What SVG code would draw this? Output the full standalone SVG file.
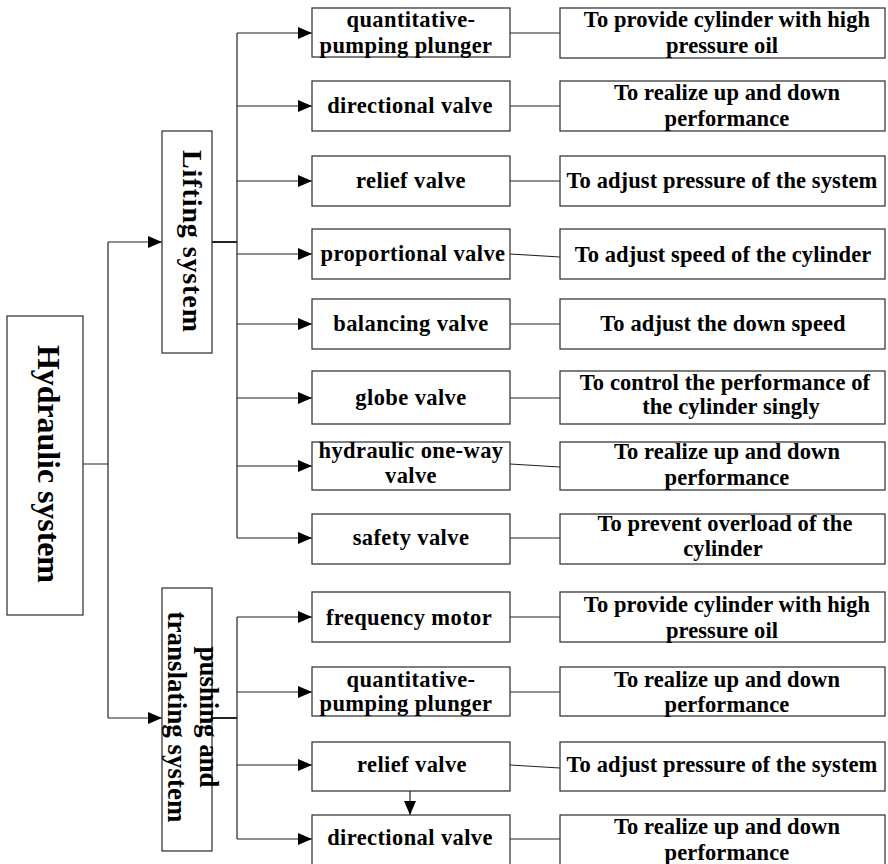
<svg xmlns="http://www.w3.org/2000/svg" width="888" height="864" viewBox="0 0 888 864">
<defs>
<style>
.box{fill:#fff;stroke:#3a3a3a;stroke-width:1.3}
.t{font-family:"Liberation Serif","Times New Roman",serif;font-weight:bold;font-size:22.5px;letter-spacing:0.4px;fill:#000;text-anchor:middle}
.r .t{letter-spacing:0.1px}
.big{font-size:32px;letter-spacing:0}
.mid{font-size:28px;letter-spacing:0}
.pt{font-size:27px;letter-spacing:0}
.ln{fill:none;stroke:#222;stroke-width:1.2}
.thick{stroke-width:2}
</style>
<marker id="ah" markerWidth="14" markerHeight="12" refX="14" refY="6" orient="auto" markerUnits="userSpaceOnUse">
<path d="M0,0 L14,6 L0,12 z" fill="#000"/>
</marker>
</defs>
<rect width="888" height="864" fill="#fff"/>

<g id="connectors">
<path class="ln" d="M83,464 H108 M108,242 V718"/>
<path class="ln" d="M108,242 H162" marker-end="url(#ah)"/>
<path class="ln" d="M108,718 H162" marker-end="url(#ah)"/>
<path class="ln thick" d="M212,242 H237"/>
<path class="ln" d="M237,33 V538"/>
<path class="ln" d="M237,33 H312" marker-end="url(#ah)"/>
<path class="ln" d="M237,106 H312" marker-end="url(#ah)"/>
<path class="ln" d="M237,181 H312" marker-end="url(#ah)"/>
<path class="ln" d="M237,254 H312" marker-end="url(#ah)"/>
<path class="ln" d="M237,324 H312" marker-end="url(#ah)"/>
<path class="ln" d="M237,398 H312" marker-end="url(#ah)"/>
<path class="ln" d="M237,466 H312" marker-end="url(#ah)"/>
<path class="ln" d="M237,538 H312" marker-end="url(#ah)"/>
<path class="ln thick" d="M212,718 H237"/>
<path class="ln" d="M237,617 V839"/>
<path class="ln" d="M237,617 H312" marker-end="url(#ah)"/>
<path class="ln" d="M237,692 H312" marker-end="url(#ah)"/>
<path class="ln" d="M237,765 H312" marker-end="url(#ah)"/>
<path class="ln" d="M237,839 H312" marker-end="url(#ah)"/>
<path class="ln" d="M410,791 V815" marker-end="url(#ah)"/>
<path class="ln" d="M510,33 H560 M510,106 H560 M510,181 H560 M510,254 L560,257 M510,324 H560 M510,398 H560 M510,464 L560,467 M510,538 H560 M510,617 H560 M510,692 H560 M510,765 L560,768 M510,839 H560"/>
</g>

<g id="hydraulic-system">
<rect class="box" x="7" y="316" width="76" height="299"/>
<text class="t big" transform="translate(38,464) rotate(90)" textLength="238" lengthAdjust="spacing">Hydraulic system</text>
</g>

<g id="lifting-system">
<rect class="box" x="162" y="131" width="50" height="222"/>
<text class="t mid" transform="translate(183,241) rotate(90)" textLength="182" lengthAdjust="spacing">Lifting system</text>
</g>

<g id="pushing-system">
<rect class="box" x="162" y="588" width="50" height="263"/>
<text class="t pt" transform="translate(200,717) rotate(90)" textLength="141" lengthAdjust="spacing">pushing and</text>
<text class="t pt" transform="translate(168,717) rotate(90)" textLength="211" lengthAdjust="spacing">translating system</text>
</g>

<g id="l1-plunger">
<rect class="box" x="312" y="8" width="198" height="49"/>
<text class="t" x="411" y="27">quantitative-</text>
<text class="t" x="406" y="53">pumping plunger</text>
</g>
<g id="l1-desc" class="r">
<rect class="box" x="560" y="8" width="325" height="50"/>
<text class="t" x="727" y="27">To provide cylinder with high</text>
<text class="t" x="722" y="53">pressure oil</text>
</g>

<g id="l2-directional">
<rect class="box" x="312" y="81" width="198" height="50"/>
<text class="t" x="410" y="113">directional valve</text>
</g>
<g id="l2-desc" class="r">
<rect class="box" x="560" y="81" width="325" height="50"/>
<text class="t" x="727" y="100">To realize up and down</text>
<text class="t" x="727" y="126">performance</text>
</g>

<g id="l3-relief">
<rect class="box" x="312" y="156" width="198" height="50"/>
<text class="t" x="411" y="188">relief valve</text>
</g>
<g id="l3-desc" class="r">
<rect class="box" x="560" y="156" width="325" height="50"/>
<text class="t" x="722" y="188">To adjust pressure of the system</text>
</g>

<g id="l4-proportional">
<rect class="box" x="312" y="229" width="198" height="50"/>
<text class="t" x="413" y="261">proportional valve</text>
</g>
<g id="l4-desc" class="r">
<rect class="box" x="560" y="229" width="325" height="50"/>
<text class="t" x="723" y="262">To adjust speed of the cylinder</text>
</g>

<g id="l5-balancing">
<rect class="box" x="312" y="299" width="198" height="50"/>
<text class="t" x="411" y="331">balancing valve</text>
</g>
<g id="l5-desc" class="r">
<rect class="box" x="560" y="299" width="325" height="50"/>
<text class="t" x="723" y="331">To adjust the down speed</text>
</g>

<g id="l6-globe">
<rect class="box" x="312" y="371" width="198" height="53"/>
<text class="t" x="411" y="405">globe valve</text>
</g>
<g id="l6-desc" class="r">
<rect class="box" x="560" y="371" width="325" height="53"/>
<text class="t" x="725" y="390">To control the performance of</text>
<text class="t" x="731" y="414">the cylinder singly</text>
</g>

<g id="l7-oneway">
<rect class="box" x="312" y="442" width="198" height="48"/>
<text class="t" x="411" y="458">hydraulic one-way</text>
<text class="t" x="411" y="483">valve</text>
</g>
<g id="l7-desc" class="r">
<rect class="box" x="560" y="442" width="325" height="48"/>
<text class="t" x="727" y="459">To realize up and down</text>
<text class="t" x="727" y="485">performance</text>
</g>

<g id="l8-safety">
<rect class="box" x="312" y="514" width="198" height="50"/>
<text class="t" x="411" y="545">safety valve</text>
</g>
<g id="l8-desc" class="r">
<rect class="box" x="560" y="514" width="325" height="50"/>
<text class="t" x="725" y="531">To prevent overload of the</text>
<text class="t" x="723" y="556">cylinder</text>
</g>

<g id="p1-motor">
<rect class="box" x="312" y="592" width="198" height="50"/>
<text class="t" x="409" y="625">frequency motor</text>
</g>
<g id="p1-desc" class="r">
<rect class="box" x="560" y="592" width="325" height="50"/>
<text class="t" x="727" y="612">To provide cylinder with high</text>
<text class="t" x="722" y="638">pressure oil</text>
</g>

<g id="p2-plunger">
<rect class="box" x="312" y="667" width="198" height="49"/>
<text class="t" x="411" y="687">quantitative-</text>
<text class="t" x="406" y="711">pumping plunger</text>
</g>
<g id="p2-desc" class="r">
<rect class="box" x="560" y="667" width="325" height="49"/>
<text class="t" x="727" y="687">To realize up and down</text>
<text class="t" x="727" y="712">performance</text>
</g>

<g id="p3-relief">
<rect class="box" x="312" y="742" width="198" height="49"/>
<text class="t" x="412" y="772">relief valve</text>
</g>
<g id="p3-desc" class="r">
<rect class="box" x="560" y="742" width="325" height="49"/>
<text class="t" x="722" y="772">To adjust pressure of the system</text>
</g>

<g id="p4-directional">
<rect class="box" x="312" y="815" width="198" height="52"/>
<text class="t" x="410" y="845">directional valve</text>
</g>
<g id="p4-desc" class="r">
<rect class="box" x="560" y="815" width="325" height="52"/>
<text class="t" x="727" y="834">To realize up and down</text>
<text class="t" x="727" y="860">performance</text>
</g>
</svg>
